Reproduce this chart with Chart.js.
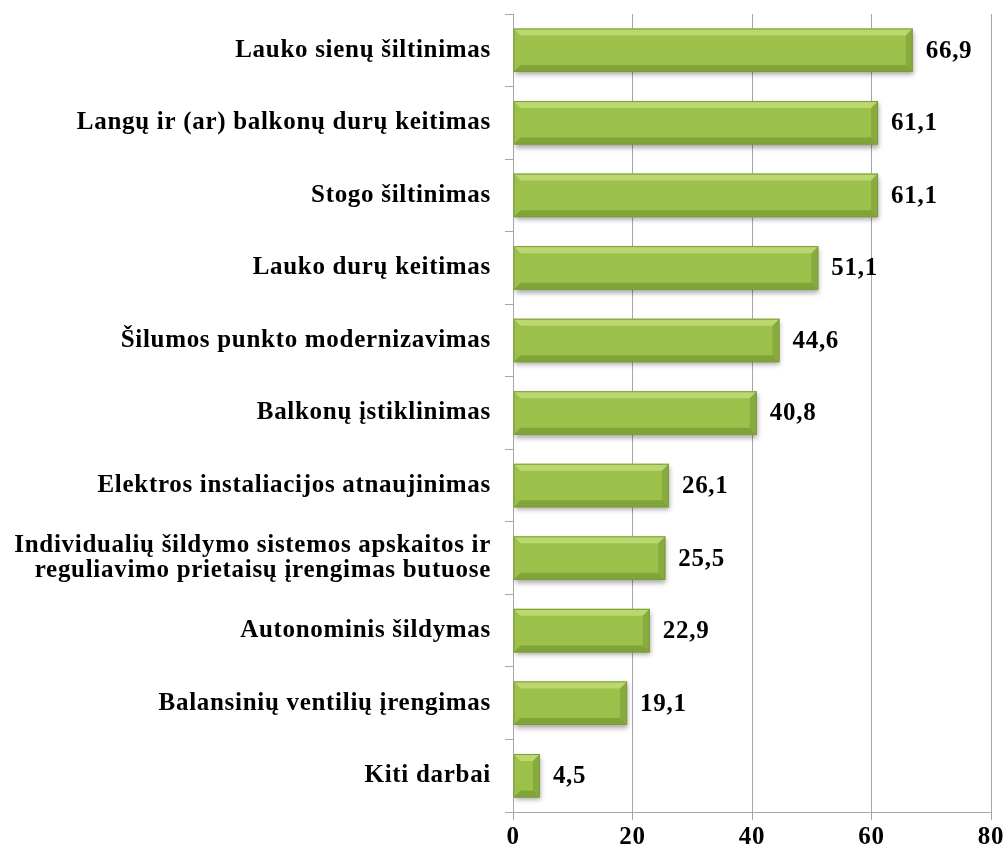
<!DOCTYPE html>
<html>
<head>
<meta charset="utf-8">
<script src="https://cdn.jsdelivr.net/npm/chart.js@4/dist/chart.umd.min.js"></script>
<style>
  html, body { margin: 0; padding: 0; background: #fff; }
  #wrap { width: 1008px; height: 854px; }
</style>
</head>
<body>
<div id="wrap"><canvas id="c" width="1008" height="854"></canvas></div>
<script>
const categories = [
    'Lauko sienų šiltinimas',
    'Langų ir (ar) balkonų durų keitimas',
    'Stogo šiltinimas',
    'Lauko durų keitimas',
    'Šilumos punkto modernizavimas',
    'Balkonų įstiklinimas',
    'Elektros instaliacijos atnaujinimas',
    ['Individualių šildymo sistemos apskaitos ir', 'reguliavimo prietaisų įrengimas butuose'],
    'Autonominis šildymas',
    'Balansinių ventilių įrengimas',
    'Kiti darbai'
];
const values = [66.9, 61.1, 61.1, 51.1, 44.6, 40.8, 26.1, 25.5, 22.9, 19.1, 4.5];
const xTicks = [0, 20, 40, 60, 80];

const FONT = '"Liberation Serif", "Times New Roman", serif';
const FONT_SIZE = 25;
const SPACING = '0.7px';

// green bar face with a soft vertical gradient
function barFill(context) {
    const chart = context.chart;
    const el = context.element;
    if (!el || !chart.chartArea) return '#9cc14b';
    const h = el.height;
    if (!Number.isFinite(el.y) || !Number.isFinite(h) || h <= 0) return '#9cc14b';
    const g = chart.ctx.createLinearGradient(0, el.y - h / 2, 0, el.y + h / 2);
    g.addColorStop(0, '#b9d96c');
    g.addColorStop(0.5, '#9dc24c');
    g.addColorStop(1, '#88ac3d');
    return g;
}

// wider type like the original, applied to all canvas text
const spacingPlugin = {
    id: 'spacing',
    beforeDraw(chart) { chart.ctx.letterSpacing = SPACING; },
    afterDraw(chart) { chart.ctx.letterSpacing = '0px'; }
};

// shadow + bevel look, drawn around the library's own bar elements
const bevelPlugin = {
    id: 'bevel',
    beforeDatasetsDraw(chart) {
        chart.ctx.save();
        chart.ctx.shadowColor = 'rgba(0,0,0,0.35)';
        chart.ctx.shadowBlur = 5;
        chart.ctx.shadowOffsetY = 3;
        chart.ctx.shadowOffsetX = 1;
    },
    afterDatasetsDraw(chart) {
        const ctx = chart.ctx;
        ctx.restore();
        const meta = chart.getDatasetMeta(0);
        meta.data.forEach(bar => {
            const x0 = bar.base, x1 = bar.x;
            const y0 = bar.y - bar.height / 2, y1 = bar.y + bar.height / 2;
            const b = Math.min(7, (x1 - x0) / 2);
            // top highlight
            ctx.fillStyle = 'rgba(215,238,150,0.5)';
            ctx.beginPath();
            ctx.moveTo(x0, y0); ctx.lineTo(x1, y0); ctx.lineTo(x1 - b, y0 + b); ctx.lineTo(x0 + b, y0 + b);
            ctx.closePath(); ctx.fill();
            // bottom shade
            ctx.fillStyle = 'rgba(90,120,30,0.4)';
            ctx.beginPath();
            ctx.moveTo(x0, y1); ctx.lineTo(x1, y1); ctx.lineTo(x1 - b, y1 - b); ctx.lineTo(x0 + b, y1 - b);
            ctx.closePath(); ctx.fill();
            // right shade
            ctx.fillStyle = 'rgba(100,130,40,0.35)';
            ctx.beginPath();
            ctx.moveTo(x1, y0); ctx.lineTo(x1, y1); ctx.lineTo(x1 - b, y1 - b); ctx.lineTo(x1 - b, y0 + b);
            ctx.closePath(); ctx.fill();
            ctx.strokeStyle = '#7c9c3a';
            ctx.lineWidth = 1;
            ctx.strokeRect(x0 + 0.5, y0 + 0.5, x1 - x0 - 1, y1 - y0 - 1);
        });
    }
};

// value labels right of each bar, with decimal comma
const valueLabels = {
    id: 'valueLabels',
    afterDatasetsDraw(chart) {
        const ctx = chart.ctx;
        const meta = chart.getDatasetMeta(0);
        ctx.save();
        ctx.letterSpacing = SPACING;
        ctx.font = 'bold ' + FONT_SIZE + 'px ' + FONT;
        ctx.fillStyle = '#000';
        ctx.textAlign = 'left';
        ctx.textBaseline = 'middle';
        meta.data.forEach((bar, i) => {
            ctx.fillText(values[i].toFixed(1).replace('.', ','), bar.x + 13, bar.y + 1);
        });
        ctx.restore();
    }
};

new Chart(document.getElementById('c'), {
    type: 'bar',
    data: {
        labels: categories,
        datasets: [{
            data: values,
            backgroundColor: barFill,
            borderWidth: 0,
            barPercentage: 0.6,
            categoryPercentage: 1.0
        }]
    },
    options: {
        indexAxis: 'y',
        responsive: false,
        animation: false,
        layout: { padding: { top: 14, right: 17, left: 0, bottom: 0 } },
        plugins: { legend: { display: false }, tooltip: { enabled: false } },
        scales: {
            x: {
                min: 0,
                max: 80,
                afterBuildTicks: scale => { scale.ticks = xTicks.map(v => ({ value: v })); },
                grid: { color: '#a6a6a6', lineWidth: 1, tickLength: 8, drawOnChartArea: true },
                border: { color: '#a6a6a6' },
                ticks: {
                    color: '#000',
                    padding: 3,
                    font: { family: FONT, size: FONT_SIZE, weight: 'bold' }
                },
                afterFit: scale => { scale.height = 42; }
            },
            y: {
                grid: { color: '#a6a6a6', drawOnChartArea: false, tickLength: 8, offset: true },
                border: { color: '#a6a6a6' },
                ticks: {
                    color: '#000',
                    padding: 14,
                    autoSkip: false,
                    font: { family: FONT, size: FONT_SIZE, weight: 'bold', lineHeight: 1.0 }
                },
                afterFit: scale => {
                    scale.width = 513;
                    scale.paddingTop = 0;
                    scale.paddingBottom = 0;
                }
            }
        }
    },
    plugins: [spacingPlugin, bevelPlugin, valueLabels]
});
</script>
</body>
</html>
